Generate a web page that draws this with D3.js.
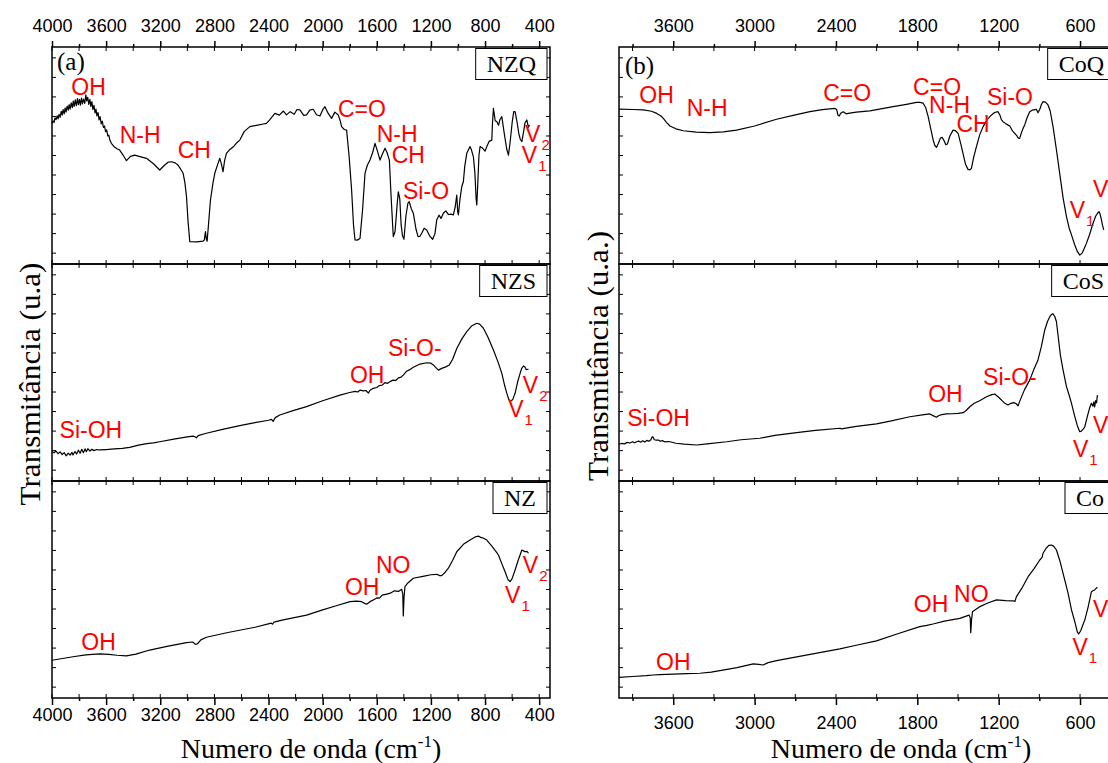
<!DOCTYPE html>
<html><head><meta charset="utf-8">
<script src="https://cdn.jsdelivr.net/npm/d3@7"></script>
<style>body{margin:0;background:#fff}svg{display:block}</style>
</head><body>
<svg id="chart" width="1108" height="763"></svg>
<script>
// ---------- DATA (wavenumber cm-1, transmittance a.u.) ----------
const seriesNamesA = ["NZQ", "NZS", "NZ"];
const seriesNamesB = ["CoQ", "CoS", "Co"];
const tickLabelsA = [4000, 3600, 3200, 2800, 2400, 2000, 1600, 1200, 800, 400];
const minorTicksA = [3800, 3400, 3000, 2600, 2200, 1800, 1400, 1000, 600];
const tickLabelsB = [3600, 3000, 2400, 1800, 1200, 600];
const minorTicksB = [3900, 3300, 2700, 2100, 1500, 900, 300];

const nzq = [[4000,64.8],[3992,65.9],[3985,65.2],[3978,67.4],[3970,66.5],[3962,68.3],[3955,66.9],[3948,69.0],[3940,67.6],[3932,70.4],[3925,68.6],[3918,71.1],[3910,69.2],[3903,71.9],[3896,70.0],[3888,72.8],[3880,70.9],[3873,73.5],[3866,71.4],[3858,74.3],[3850,72.0],[3843,75.1],[3836,72.6],[3828,75.6],[3820,73.0],[3812,76.2],[3805,73.4],[3797,75.9],[3790,73.2],[3782,76.4],[3775,73.8],[3767,76.0],[3758,74.0],[3750,77.9],[3743,75.2],[3736,76.8],[3728,73.6],[3720,75.9],[3713,72.6],[3705,74.8],[3698,71.2],[3690,73.1],[3682,69.6],[3675,71.4],[3668,68.2],[3660,69.8],[3652,66.4],[3645,67.9],[3636,64.6],[3628,65.8],[3620,62.9],[3612,63.6],[3604,61.0],[3596,61.8],[3588,59.0],[3580,59.4],[3572,57.0],[3561,55.6],[3540,54.0],[3520,53.1],[3500,52.5],[3475,50.2],[3450,47.6],[3420,49.6],[3389,50.2],[3350,49.5],[3302,48.7],[3250,46.2],[3204,43.3],[3167,45.6],[3140,47.0],[3117,47.1],[3090,46.6],[3069,45.6],[3050,43.8],[3031,41.8],[3018,37.5],[3006,31.0],[2995,20.0],[2982,10.3],[2930,10.2],[2884,10.5],[2875,11.0],[2866,14.9],[2860,11.5],[2854,10.5],[2845,17.0],[2829,29.5],[2810,37.5],[2797,41.8],[2775,46.0],[2760,48.7],[2748,46.0],[2736,42.5],[2725,47.5],[2711,51.0],[2690,52.5],[2660,54.0],[2640,55.5],[2612,57.1],[2580,61.0],[2538,63.3],[2480,64.0],[2440,64.5],[2415,64.8],[2390,66.5],[2353,69.4],[2320,68.6],[2290,70.5],[2267,68.7],[2240,70.2],[2210,69.0],[2190,71.2],[2168,71.0],[2140,68.5],[2119,68.7],[2095,70.9],[2070,71.3],[2045,68.8],[2020,68.2],[2000,71.0],[1983,72.5],[1960,69.5],[1934,67.1],[1910,70.0],[1885,68.7],[1870,66.0],[1860,63.3],[1840,62.0],[1823,61.7],[1805,50.0],[1786,34.1],[1772,18.0],[1761,11.1],[1745,11.0],[1724,11.8],[1705,25.0],[1687,41.8],[1670,45.5],[1650,47.9],[1630,51.5],[1613,55.6],[1595,52.0],[1576,47.9],[1560,50.5],[1539,53.3],[1525,51.5],[1507,47.9],[1495,32.0],[1478,12.6],[1465,15.0],[1450,27.0],[1441,33.3],[1430,30.0],[1420,18.0],[1410,13.0],[1399,11.4],[1385,22.0],[1370,28.0],[1360,28.7],[1345,25.5],[1330,23.4],[1310,16.0],[1295,12.6],[1281,12.8],[1265,14.5],[1250,16.5],[1231,15.7],[1210,13.0],[1187,11.4],[1170,14.0],[1157,20.3],[1140,22.5],[1125,21.0],[1108,23.4],[1090,24.5],[1070,22.8],[1050,23.0],[1034,22.6],[1020,26.5],[1009,31.8],[1002,24.0],[997,22.6],[985,30.0],[972,35.6],[960,38.0],[950,45.0],[935,51.0],[920,53.0],[911,54.1],[900,52.5],[886,49.4],[875,42.0],[866,30.0],[861,27.2],[855,35.0],[845,50.0],[837,54.1],[820,53.5],[800,52.0],[787,54.1],[770,56.5],[750,57.1],[745,65.0],[738,71.7],[725,66.0],[713,65.6],[700,64.0],[690,66.5],[676,67.9],[660,61.0],[640,53.0],[627,50.2],[615,56.0],[600,65.0],[588,70.2],[578,70.2],[565,66.0],[550,60.0],[540,57.5],[528,56.4],[515,61.0],[505,65.0],[491,66.4],[480,63.0],[472,64.1]];

const nzs = [[4000,13.5],[3985,13.0],[3970,13.8],[3955,12.6],[3940,13.4],[3925,12.2],[3910,13.1],[3895,11.6],[3880,12.8],[3866,11.9],[3852,13.2],[3845,12.0],[3830,13.6],[3818,12.4],[3805,14.2],[3792,12.8],[3780,14.6],[3768,13.0],[3756,14.8],[3746,13.5],[3735,14.9],[3720,13.8],[3705,14.6],[3690,14.0],[3670,14.5],[3648,14.3],[3600,14.5],[3540,14.8],[3480,15.0],[3426,15.5],[3360,16.5],[3300,17.2],[3250,17.6],[3204,18.1],[3100,19.3],[3000,20.3],[2958,20.7],[2940,20.3],[2933,19.9],[2920,20.9],[2859,22.0],[2740,23.8],[2612,25.5],[2500,26.9],[2400,28.0],[2378,28.4],[2366,27.5],[2350,29.2],[2317,30.4],[2219,32.4],[2119,34.3],[2000,37.0],[1872,39.6],[1800,40.8],[1760,41.3],[1740,41.0],[1724,41.9],[1700,41.5],[1680,41.7],[1662,40.5],[1650,41.8],[1626,42.7],[1600,43.1],[1580,44.0],[1560,44.2],[1540,45.3],[1520,45.0],[1502,45.8],[1480,46.5],[1460,46.3],[1440,47.5],[1420,47.9],[1404,48.8],[1380,50.6],[1360,51.2],[1330,52.4],[1280,53.9],[1231,54.5],[1200,54.3],[1182,53.5],[1165,52.4],[1145,51.1],[1120,51.9],[1090,52.6],[1064,53.5],[1040,56.0],[1009,61.1],[970,65.6],[935,68.8],[900,71.4],[861,72.7],[840,72.3],[812,70.4],[780,66.5],[738,60.4],[705,55.0],[676,49.6],[655,44.0],[639,40.4],[625,37.6],[609,36.9],[595,37.6],[578,40.4],[560,45.5],[541,49.6],[530,51.8],[516,53.0],[505,52.5],[495,51.3],[479,51.5]];

const nz = [[4000,17.4],[3845,19.0],[3750,19.9],[3648,20.3],[3580,20.1],[3520,19.7],[3450,19.4],[3380,20.2],[3278,22.1],[3150,23.8],[3006,25.5],[2960,25.8],[2940,24.7],[2925,25.0],[2900,26.8],[2859,28.0],[2700,30.2],[2500,32.6],[2380,34.5],[2370,34.0],[2360,35.0],[2300,35.9],[2119,38.2],[2000,40.6],[1900,42.5],[1798,44.4],[1750,44.6],[1712,44.4],[1690,43.6],[1675,43.2],[1650,44.4],[1626,45.2],[1600,46.1],[1580,46.0],[1560,47.4],[1527,47.9],[1500,48.3],[1470,49.4],[1440,49.1],[1416,50.1],[1408,48.0],[1404,37.8],[1399,46.0],[1392,51.3],[1370,53.0],[1330,55.2],[1250,56.2],[1200,56.8],[1157,57.0],[1135,56.4],[1120,56.4],[1100,57.6],[1071,59.8],[1040,63.4],[1009,67.4],[960,70.8],[911,72.8],[870,74.3],[849,74.6],[830,74.0],[810,73.6],[787,72.8],[750,70.0],[720,67.6],[701,65.9],[680,62.5],[652,58.2],[630,54.5],[615,53.6],[600,55.0],[578,59.0],[555,63.5],[528,68.2],[515,67.8],[504,67.4],[490,67.6],[479,66.7]];

const coq = [[4000,71.4],[3900,71.2],[3821,71.0],[3760,70.4],[3722,69.4],[3690,68.2],[3673,67.1],[3650,65.3],[3624,63.6],[3580,62.3],[3526,61.4],[3430,60.8],[3329,60.5],[3230,60.9],[3133,61.7],[3000,63.6],[2838,66.7],[2700,68.7],[2592,70.2],[2500,71.1],[2408,71.7],[2395,71.2],[2385,68.6],[2376,68.2],[2365,69.5],[2347,70.2],[2325,69.2],[2310,69.4],[2250,70.0],[2150,70.6],[1978,72.5],[1880,73.6],[1806,74.5],[1780,74.5],[1757,74.1],[1738,72.0],[1720,67.9],[1700,62.0],[1683,57.1],[1670,54.5],[1658,53.8],[1645,55.5],[1630,58.0],[1617,58.4],[1600,56.5],[1590,55.0],[1578,55.3],[1560,59.0],[1536,61.7],[1520,61.5],[1499,60.2],[1480,55.5],[1463,51.0],[1445,46.0],[1426,43.6],[1412,43.4],[1401,44.1],[1385,49.0],[1364,54.1],[1340,59.5],[1315,63.3],[1285,66.5],[1253,68.7],[1230,69.8],[1205,70.2],[1190,68.5],[1180,66.5],[1168,65.6],[1150,64.8],[1130,64.0],[1118,63.6],[1100,61.5],[1081,60.2],[1065,59.0],[1055,58.0],[1045,57.9],[1035,60.0],[1020,62.5],[1008,64.1],[990,67.5],[971,70.2],[950,71.0],[935,71.0],[922,71.3],[910,69.7],[895,71.5],[885,73.5],[873,74.8],[855,74.6],[836,73.3],[820,70.5],[799,63.3],[775,53.0],[750,41.8],[725,30.5],[700,21.8],[680,16.5],[663,13.4],[640,9.0],[620,5.8],[602,4.1],[585,5.0],[570,7.0],[553,9.5],[530,13.5],[504,18.8],[485,22.0],[470,23.5],[460,24.1],[452,23.0],[442,20.3],[435,18.0],[425,15.7]];

const cos = [[4000,17.0],[3980,17.3],[3960,17.1],[3940,17.8],[3920,17.5],[3900,18.1],[3885,17.6],[3870,18.1],[3855,18.4],[3840,17.9],[3825,18.6],[3810,18.0],[3795,18.7],[3780,18.3],[3765,19.0],[3755,20.4],[3747,20.1],[3740,19.0],[3725,18.8],[3710,18.9],[3695,18.3],[3680,18.6],[3660,18.0],[3640,18.2],[3624,18.1],[3580,17.4],[3520,17.0],[3427,16.6],[3350,17.1],[3206,18.1],[3100,19.0],[2961,19.7],[2850,21.0],[2690,22.3],[2550,23.3],[2371,24.3],[2360,24.0],[2250,25.2],[2101,26.3],[2000,27.6],[1855,29.6],[1750,30.6],[1708,30.9],[1680,30.0],[1659,29.4],[1640,30.2],[1620,30.6],[1585,30.9],[1540,31.0],[1500,31.2],[1462,31.5],[1440,32.5],[1413,34.2],[1380,35.8],[1340,37.0],[1290,38.8],[1250,39.8],[1229,40.1],[1205,38.8],[1179,37.3],[1155,35.8],[1131,35.0],[1110,35.8],[1089,36.1],[1070,35.6],[1057,34.6],[1040,37.5],[1010,42.0],[971,46.5],[940,51.5],[910,55.8],[885,62.0],[860,69.6],[840,73.5],[823,75.7],[810,76.8],[799,77.0],[786,75.8],[774,73.4],[760,66.0],[745,58.0],[725,51.1],[700,43.5],[680,39.5],[663,35.8],[640,30.0],[620,25.5],[602,22.7],[590,23.0],[575,24.0],[565,25.0],[545,30.0],[530,33.5],[516,35.8],[505,34.5],[498,36.5],[492,34.2],[485,37.0],[478,36.0],[472,39.6]];

const co = [[4000,9.5],[3900,9.9],[3800,10.3],[3747,10.6],[3700,10.8],[3600,11.0],[3500,11.2],[3403,11.4],[3320,11.9],[3256,12.6],[3130,14.0],[3010,15.7],[2970,15.5],[2937,15.2],[2900,16.3],[2838,17.2],[2600,20.0],[2371,22.6],[2250,24.3],[2101,26.3],[1950,29.5],[1782,32.9],[1730,33.5],[1684,34.1],[1600,35.4],[1487,36.7],[1450,37.5],[1418,38.2],[1410,37.0],[1406,30.1],[1400,36.0],[1393,39.8],[1370,40.8],[1339,42.1],[1280,43.8],[1216,45.2],[1150,44.9],[1094,44.8],[1080,44.5],[1069,46.7],[1030,50.5],[983,55.9],[940,59.5],[897,63.6],[880,64.8],[873,66.7],[850,69.0],[830,70.3],[811,70.5],[795,70.0],[774,68.2],[750,63.5],[713,54.4],[690,48.8],[663,40.6],[640,35.5],[620,30.5],[610,29.5],[595,31.0],[580,33.5],[565,35.9],[540,42.0],[516,49.0],[505,49.4],[492,49.8],[480,50.6],[472,51.0]];

// band annotations: [label, wavenumber, transmittance]  ("V_1" = V with subscript 1)
const notesNZQ = [["OH",3857,77.9],["N-H",3500,55.6],["CH",3071,48.7],["C=O",1887,67.9],["N-H",1601,56.4],["CH",1490,46.4],["Si-O",1406,29.8],["V_2",504,56.4],["V_1",528,46.4]];
const notesNZS = [["Si-OH",3944,19.7],["OH",1798,45.0],["Si-O-",1517,57.6],["V_2",521,40.7],["V_1",629,29.6]];
const notesNZ  = [["OH",3783,22.1],["OH",1835,47.5],["NO",1606,57.7],["V_2",521,57.5],["V_1",652,43.9]];
const notesCoQ = [["OH",3850,74.1],["N-H",3501,68.2],["C=O",2494,75.1],["C=O",1831,77.9],["N-H",1713,69.4],["CH",1511,61.0],["Si-O",1286,73.3],["V_1",676,21.1],["V_2",504,31.0]];
const notesCoS = [["Si-OH",3939,25.5],["OH",1720,36.5],["Si-O-",1315,44.2],["V_2",504,22.0],["V_1",652,11.2]];
const notesCo  = [["OH",3727,12.9],["OH",1826,39.5],["NO",1529,44.4],["V_2",504,37.5],["V_1",656,19.8]];

// ---------- LAYOUT ----------
const svg = d3.select("#chart");
svg.append("rect").attr("width",1108).attr("height",763).attr("fill","#fff");
const serif = "'Liberation Serif','Times New Roman',serif";
const sans = "'Liberation Sans',Arial,sans-serif";

const panels = [
  {left:52, right:550, top:47, bottom:698, majors:tickLabelsA, minors:minorTicksA,
   data:[nzq,nzs,nz], names:seriesNamesA, notes:[notesNZQ,notesNZS,notesNZ],
   letter:"(a)", letterX:57, letterY:70, ytitle:"Transmitância (u.a)", ytX:40, ytY:384, ytLen:243,
   xtX:311, botLabelY:721},
  {left:619, right:1118, top:47, bottom:698, majors:tickLabelsB, minors:minorTicksB,
   data:[coq,cos,co], names:seriesNamesB, notes:[notesCoQ,notesCoS,notesCo],
   letter:"(b)", letterX:625, letterY:74, ytitle:"Transmitância (u.a.)", ytX:608, ytY:356, ytLen:250,
   xtX:901, botLabelY:729}
];

panels.forEach(P => {
  const x = d3.scaleLinear().domain([4000, 320]).range([P.left, P.right]);
  const h = (P.bottom - P.top) / 3;
  const g = svg.append("g");

  P.data.forEach((ser, i) => {
    const top = P.top + i*h, bot = top + h;
    const y = d3.scaleLinear().domain([0, 100]).range([bot, top]);
    const sg = g.append("g");

    const allX = P.majors.concat(P.minors).filter(v => v <= 4000 && v >= 320);
    sg.selectAll(null).data(allX).join("line")
      .attr("x1", d => x(d)).attr("x2", d => x(d))
      .attr("y1", bot).attr("y2", bot - 4).attr("stroke","#000").attr("stroke-width",1);
    sg.selectAll(null).data(allX).join("line")
      .attr("x1", d => x(d)).attr("x2", d => x(d))
      .attr("y1", top).attr("y2", top + 4).attr("stroke","#000").attr("stroke-width",1);
    const yt = d3.range(5, 100, 9);
    sg.selectAll(null).data(yt).join("line")
      .attr("x1", P.left).attr("x2", P.left + 4).attr("y1", d => y(d)).attr("y2", d => y(d))
      .attr("stroke","#000").attr("stroke-width",1);
    sg.selectAll(null).data(yt).join("line")
      .attr("x1", P.right).attr("x2", P.right - 4).attr("y1", d => y(d)).attr("y2", d => y(d))
      .attr("stroke","#000").attr("stroke-width",1);

    sg.append("path").datum(ser)
      .attr("d", d3.line().x(d => x(d[0])).y(d => y(d[1])))
      .attr("fill","none").attr("stroke","#000").attr("stroke-width",1.2).attr("stroke-linejoin","round");

    sg.append("rect").attr("x",P.left).attr("y",top).attr("width",P.right-P.left).attr("height",h)
      .attr("fill","none").attr("stroke","#000").attr("stroke-width",1.5);

    const tb = sg.append("text").attr("font-family",serif).attr("font-size",24)
      .attr("text-anchor","middle").text(P.names[i]);
    const tw = tb.node().getComputedTextLength();
    const bw = tw + 22, bx = P.right - 3 - bw;
    sg.insert("rect", "text").attr("x",bx).attr("y",top+1.5).attr("width",bw).attr("height",31)
      .attr("fill","#fff").attr("stroke","#000").attr("stroke-width",1);
    tb.attr("x", bx + bw/2).attr("y", top + 25);

    P.notes[i].forEach(([lab, w, v]) => {
      const t = sg.append("text").attr("x", x(w)).attr("y", y(v))
        .attr("font-family",sans).attr("font-size",23).attr("fill","#ff0000");
      if (lab.startsWith("V_")) {
        t.append("tspan").text("V");
        t.append("tspan").attr("font-size",15).attr("dx",1).attr("dy",8).text(lab.slice(2));
      } else t.text(lab);
    });
  });

  const fmt = d3.format("d");
  const axTop = d3.axisTop(x).tickValues(P.majors).tickSize(6).tickSizeOuter(0).tickFormat(fmt);
  const axBot = d3.axisBottom(x).tickValues(P.majors).tickSize(7).tickSizeOuter(0).tickFormat(fmt);
  const gt = g.append("g").attr("transform",`translate(0,${P.top})`).call(axTop);
  const gb = g.append("g").attr("transform",`translate(0,${P.bottom})`).call(axBot);
  const mTop = d3.axisTop(x).tickValues(P.minors.filter(v=>v>=320)).tickSize(3).tickFormat("");
  const mBot = d3.axisBottom(x).tickValues(P.minors.filter(v=>v>=320)).tickSize(3).tickFormat("");
  g.append("g").attr("transform",`translate(0,${P.top})`).call(mTop);
  g.append("g").attr("transform",`translate(0,${P.bottom})`).call(mBot);
  g.selectAll(".domain").remove();
  g.selectAll(".tick line").attr("stroke-width",1.5);
  g.selectAll(".tick text").attr("font-family",sans).attr("font-size",18).attr("fill","#000");
  gt.selectAll(".tick text").attr("dy",0).attr("y",-15);
  gb.selectAll(".tick text").attr("dy",0).attr("y",P.botLabelY - P.bottom);

  g.append("text").attr("x",P.letterX).attr("y",P.letterY).attr("font-family",serif)
    .attr("font-size",25).text(P.letter);

  g.append("text").attr("transform",`translate(${P.ytX},${P.ytY}) rotate(-90)`)
    .attr("text-anchor","middle").attr("font-family",serif).attr("font-size",30)
    .attr("textLength",P.ytLen).attr("lengthAdjust","spacingAndGlyphs").text(P.ytitle);

  const xt = g.append("text").attr("x",P.xtX).attr("y",758).attr("text-anchor","middle")
    .attr("font-family",serif).attr("font-size",28);
  xt.append("tspan").text("Numero de onda (cm");
  xt.append("tspan").attr("font-size",17).attr("dy",-11).text("-1");
  xt.append("tspan").attr("dy",11).text(")");
});
</script>
</body></html>
